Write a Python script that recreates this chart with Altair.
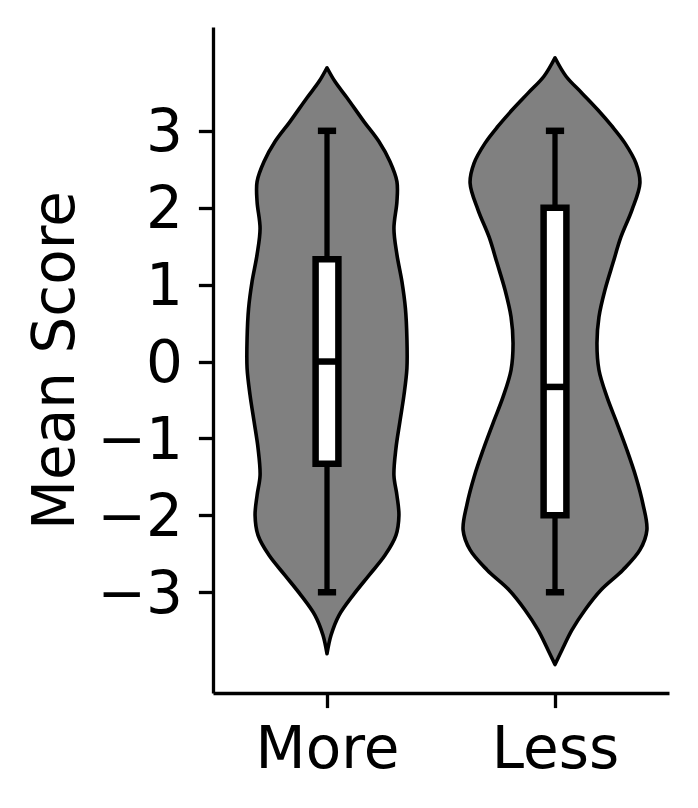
import altair as alt
import pandas as pd

# ---- data ----
categories = ["More", "Less"]
cat_pos = [0, 1]

# violin outlines: score values and half-widths (relative density, px-like units)
more_y = [-3.80, -3.56, -3.30, -3.04, -2.78, -2.52, -2.26, -2.00, -1.74, -1.48, -1.13, -0.78,
          -0.44, -0.09, 0.30, 0.69, 1.04, 1.39, 1.73, 2.08, 2.34, 2.60, 2.86, 3.12, 3.43, 3.64, 3.82]
more_w = [0, 4, 12, 26, 42, 58, 69, 72, 70, 67, 69, 73,
          77, 80, 80, 78.5, 75, 70, 67, 70, 70, 63, 52, 37, 20, 8, 0]

less_y = [-3.94, -3.75, -3.49, -3.23, -2.97, -2.71, -2.45, -2.19, -1.85, -1.50, -1.15, -0.80,
          -0.46, -0.11, 0.24, 0.58, 0.93, 1.28, 1.62, 1.97, 2.32, 2.58, 2.84, 3.06, 3.27, 3.49, 3.71, 3.95]
less_w = [0, 7, 17, 30, 46, 68, 85, 92, 88, 81, 72, 62,
          52, 44, 42, 44, 50, 58, 66, 77, 85, 81, 70, 57, 43, 27, 11, 0]

# box plot statistics
whisk_lo = [-3, -3]
whisk_hi = [3, 3]
q1 = [-1.33, -2.0]
q3 = [1.33, 2.0]
median = [0.0, -0.33]

# ---- style constants ----
W_SCALE = 1 / 228.25   # density units -> category units
BOX_HALF = 0.05
CAP_HALF = 0.04
FONT = "DejaVu Sans"
FS = 58

rows = []
for cat, pos, ys, ws in [("More", 0, more_y, more_w), ("Less", 1, less_y, less_w)]:
    for y, w in zip(ys, ws):
        rows.append({"cat": cat, "y": y, "xl": pos - w * W_SCALE, "xr": pos + w * W_SCALE})
violin_df = pd.DataFrame(rows)

box_df = pd.DataFrame({
    "cat": categories, "pos": cat_pos, "lo": whisk_lo, "hi": whisk_hi,
    "q1": q1, "q3": q3, "med": median,
})
box_df["bl"] = box_df["pos"] - BOX_HALF
box_df["br"] = box_df["pos"] + BOX_HALF

cap_rows = []
for p, lo, hi in zip(cat_pos, whisk_lo, whisk_hi):
    for v in (lo, hi):
        cap_rows.append({"cl": p - CAP_HALF, "cr": p + CAP_HALF, "v": v})
cap_df = pd.DataFrame(cap_rows)

xscale = alt.Scale(domain=[-0.5, 1.5], nice=False, zero=False)
yscale = alt.Scale(domain=[-4.31, 4.35], nice=False, zero=False)

xaxis = alt.Axis(values=[0, 1], labelExpr="datum.value == 0 ? 'More' : 'Less'",
                 title=None, grid=False, labelFont=FONT, labelFontSize=FS,
                 labelColor="black", tickColor="black", domainColor="black",
                 tickSize=14.6, tickWidth=3.3, domainWidth=3.3, labelPadding=14,
                 labelFlush=False, labelOverlap=False)
yaxis = alt.Axis(values=[-3, -2, -1, 0, 1, 2, 3], format="d", title="Mean Score",
                 grid=False, labelFont=FONT, labelFontSize=FS, labelColor="black",
                 tickColor="black", domainColor="black", tickSize=14.6, tickWidth=3.3,
                 domainWidth=3.3, labelPadding=16, labelOffset=3,
                 titleFont=FONT, titleFontSize=FS, titleFontWeight="normal",
                 titleColor="black", titleAngle=-90, titleX=-140, titleY=333,
                 titleAlign="center", titleBaseline="alphabetic",
                 labelFlush=False, labelOverlap=False)

violins = alt.Chart(violin_df).mark_area(
    orient="horizontal", interpolate="catmull-rom", fill="#808080",
    stroke="black", strokeWidth=3.6, strokeJoin="round"
).encode(
    y=alt.Y("y:Q", scale=yscale, axis=yaxis),
    x=alt.X("xl:Q", scale=xscale, axis=xaxis),
    x2="xr:Q",
    detail="cat:N",
)

whiskers = alt.Chart(box_df).mark_rule(color="black", strokeWidth=5.3).encode(
    x=alt.X("pos:Q", scale=xscale),
    y=alt.Y("lo:Q", scale=yscale),
    y2="hi:Q",
)

caps = alt.Chart(cap_df).mark_rule(color="black", strokeWidth=6.5, strokeCap="butt").encode(
    x=alt.X("cl:Q", scale=xscale),
    x2="cr:Q",
    y=alt.Y("v:Q", scale=yscale),
)

boxes = alt.Chart(box_df).mark_rect(fill="white", stroke="black", strokeWidth=6.5).encode(
    x=alt.X("bl:Q", scale=xscale),
    x2="br:Q",
    y=alt.Y("q1:Q", scale=yscale),
    y2="q3:Q",
)

medians = alt.Chart(box_df).mark_rule(color="black", strokeWidth=6.5, strokeCap="butt").encode(
    x=alt.X("bl:Q", scale=xscale),
    x2="br:Q",
    y=alt.Y("med:Q", scale=yscale),
)

chart = alt.layer(violins, whiskers, caps, boxes, medians).properties(
    width=456, height=666,
    autosize=alt.AutoSizeParams(type="none"),
    padding={"left": 205, "top": 19, "right": 20, "bottom": 100},
    background="white",
).configure_view(strokeWidth=0)

chart.save("out.html", embed_options={"renderer": "svg", "actions": False})
